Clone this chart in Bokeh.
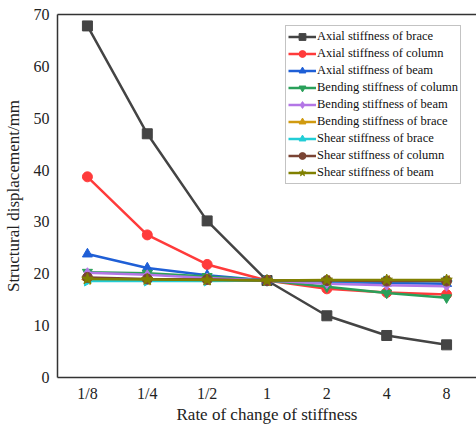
from bokeh.plotting import figure
from bokeh.models import Range1d, Legend, LegendItem, LinearAxis, FixedTicker
from bokeh.embed import file_html
from bokeh.resources import INLINE

categories = ["1/8", "1/4", "1/2", "1", "2", "4", "8"]
axial_brace = [67.8, 47.0, 30.2, 18.7, 11.9, 8.1, 6.3]
axial_column = [38.7, 27.5, 21.8, 18.7, 17.1, 16.4, 16.0]
axial_beam = [23.8, 21.1, 19.7, 18.7, 18.4, 18.2, 18.1]
bending_column = [20.3, 20.1, 19.5, 18.7, 17.5, 16.3, 15.4]
bending_beam = [20.2, 19.8, 19.2, 18.7, 18.1, 17.8, 17.6]
bending_brace = [18.9, 18.8, 18.8, 18.7, 18.7, 18.7, 18.7]
shear_brace = [18.6, 18.6, 18.6, 18.7, 18.6, 18.6, 18.6]
shear_column = [19.3, 19.0, 18.9, 18.7, 18.7, 18.6, 18.6]
shear_beam = [19.0, 18.9, 18.8, 18.7, 18.8, 18.8, 18.8]
y_ticks = [0, 10, 20, 30, 40, 50, 60, 70]

series = [
    ("Axial stiffness of brace", axial_brace, "#444444", "square"),
    ("Axial stiffness of column", axial_column, "#ff3b3b", "circle"),
    ("Axial stiffness of beam", axial_beam, "#1f5fd6", "triangle"),
    ("Bending stiffness of column", bending_column, "#2aa05a", "inverted_triangle"),
    ("Bending stiffness of beam", bending_beam, "#b376e6", "diamond"),
    ("Bending stiffness of brace", bending_brace, "#d09a10", "triangle"),
    ("Shear stiffness of brace", shear_brace, "#22cdd6", "triangle"),
    ("Shear stiffness of column", shear_column, "#7a4434", "circle"),
    ("Shear stiffness of beam", shear_beam, "#808000", "star"),
]
angles = {"Bending stiffness of brace": 1.5708, "Shear stiffness of brace": -1.5708}

xs = list(range(len(categories)))

p = figure(width=476, height=433, output_backend="svg", toolbar_location=None,
           x_range=Range1d(-0.5, 6.5), y_range=Range1d(0, 70),
           min_border_left=57, min_border_right=0, min_border_top=14, min_border_bottom=56)
p.outline_line_color = None
p.xgrid.visible = False
p.ygrid.visible = False
p.background_fill_color = "white"

font = "Liberation Serif"
items = []
for name, vals, color, marker in series:
    r1 = p.line(xs, vals, line_color=color, line_width=2.5)
    r2 = p.scatter(xs, vals, marker=marker, size=10 if marker != "star" else 12,
                   fill_color=color, line_color=color, angle=angles.get(name, 0.0))
    items.append(LegendItem(label=name, renderers=[r1, r2]))

legend = Legend(items=items, location=(228, 193), label_text_font=font,
                label_text_font_size="12.5px", label_text_color="#111111",
                glyph_width=28, glyph_height=17,
                label_height=13, spacing=0, padding=2, margin=0,
                label_standoff=1, border_line_color="#888888", border_line_width=1,
                background_fill_alpha=1.0)
p.add_layout(legend, "center")

for ax in (p.xaxis[0], p.yaxis[0]):
    ax.axis_line_color = "#333333"
    ax.axis_line_width = 1.5
    ax.major_tick_line_color = None
    ax.minor_tick_line_color = None
    ax.major_tick_out = 0
    ax.major_tick_in = 0
    ax.minor_tick_out = 0
    ax.minor_tick_in = 0
    ax.major_label_text_font = font
    ax.major_label_text_font_size = "16px"
    ax.major_label_text_color = "#222222"
    ax.axis_label_text_font = font
    ax.axis_label_text_font_size = "17px"
    ax.axis_label_text_font_style = "normal"
    ax.axis_label_text_color = "#222222"

p.xaxis.ticker = FixedTicker(ticks=xs)
p.xaxis.major_label_overrides = {i: c for i, c in enumerate(categories)}
p.xaxis.axis_label = "Rate of change of stiffness"
p.xaxis.major_label_standoff = 7
p.xaxis.axis_label_standoff = 0
p.yaxis.ticker = FixedTicker(ticks=y_ticks)
p.yaxis.axis_label = "Structural displacement/mm"
p.yaxis.major_label_standoff = 8
p.yaxis.axis_label_standoff = 8

top = LinearAxis(axis_line_color="#333333", axis_line_width=1.5,
                 major_tick_line_color=None, minor_tick_line_color=None,
                 major_tick_out=0, major_tick_in=0, minor_tick_out=0, minor_tick_in=0,
                 major_label_text_font_size="0px", ticker=FixedTicker(ticks=[]))
p.add_layout(top, "above")

open("out.html", "w").write(file_html(p, INLINE))
